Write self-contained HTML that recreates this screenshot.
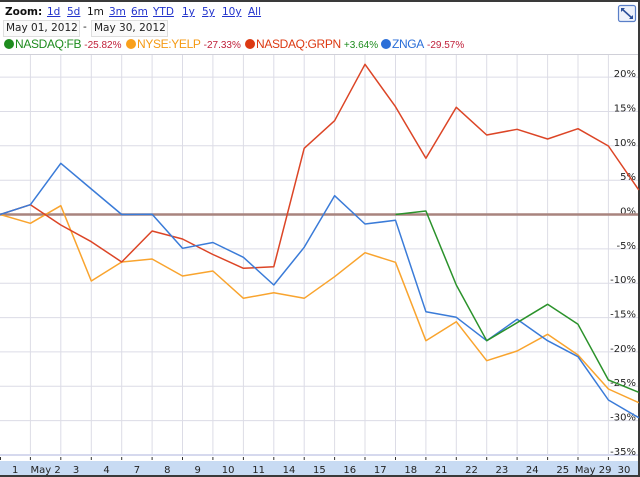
<!DOCTYPE html>
<html><head><meta charset="utf-8">
<style>
html,body{margin:0;padding:0;background:#fff;}
#w{position:relative;width:640px;height:477px;overflow:hidden;background:#fff;font-family:"DejaVu Sans","Liberation Sans",sans-serif;}
.t{position:absolute;white-space:nowrap;}
.zl{position:absolute;top:6px;font-size:10.5px;color:#2233cc;text-decoration:underline;}
.box{position:absolute;top:20px;height:15px;border:1px solid #dedede;background:#fafafa;font-size:10.5px;line-height:15px;color:#222;padding-left:2px;}
.lg{position:absolute;top:37px;font-family:"Liberation Sans",sans-serif;font-size:11px;line-height:14px;white-space:nowrap;}
.nm{font-size:12px;letter-spacing:-0.35px;}
.pc{font-size:10px;}
.dot{display:inline-block;width:10px;height:10px;border-radius:5px;vertical-align:-1px;margin-right:1px;}
</style></head><body>
<div id="w">
<div style="position:absolute;left:0;top:0;width:640px;height:2px;background:#3a3a3a"></div>
<div style="position:absolute;right:0;top:0;width:2px;height:477px;background:#3a3a3a"></div>
<div style="position:absolute;left:0;top:461px;width:638px;height:14px;background:#c8dbf3"></div>
<div style="position:absolute;left:0;top:475px;width:640px;height:2px;background:#3a3a3a"></div>

<div class="t" style="left:5px;top:6px;font-size:10.5px;font-weight:bold;color:#111">Zoom:</div>
<div class="zl" style="left:47px">1d</div>
<div class="zl" style="left:67px">5d</div>
<div class="t" style="left:87px;top:6px;font-size:10.5px;color:#111">1m</div>
<div class="zl" style="left:109px">3m</div>
<div class="zl" style="left:131px">6m</div>
<div class="zl" style="left:153px">YTD</div>
<div class="zl" style="left:182px">1y</div>
<div class="zl" style="left:202px">5y</div>
<div class="zl" style="left:222px">10y</div>
<div class="zl" style="left:248px">All</div>

<div class="box" style="left:3px;width:73px">May 01, 2012</div>
<div class="t" style="left:83px;top:21px;font-size:10.5px;color:#222">-</div>
<div class="box" style="left:91px;width:73px">May 30, 2012</div>

<div class="lg" style="left:4px"><span class="dot" style="background:#1e8c1e"></span><span class="nm" style="color:#1e8c1e">NASDAQ:FB</span> <span class="pc" style="color:#c0203a">-25.82%</span></div>
<div class="lg" style="left:126px"><span class="dot" style="background:#f9a01b"></span><span class="nm" style="color:#f59a14">NYSE:YELP</span> <span class="pc" style="color:#c0203a">-27.33%</span></div>
<div class="lg" style="left:245px"><span class="dot" style="background:#dc3912"></span><span class="nm" style="color:#dc3912">NASDAQ:GRPN</span> <span class="pc" style="color:#1e8c1e">+3.64%</span></div>
<div class="lg" style="left:381px"><span class="dot" style="background:#2a6ed8"></span><span class="nm" style="color:#2a6ed8">ZNGA</span> <span class="pc" style="color:#c0203a">-29.57%</span></div>

<svg style="position:absolute;left:0;top:0" width="640" height="477" xmlns="http://www.w3.org/2000/svg">
<rect x="618.5" y="5.5" width="17" height="16" rx="2" fill="#eef2fb" stroke="#5a7fc8" stroke-width="1.2"/>
<line x1="622" y1="9" x2="632" y2="18" stroke="#2b4f9a" stroke-width="1.6"/>
<path d="M621,8 l4,0 l-4,4 z M633,19 l-4,0 l4,-4 z" fill="#2b4f9a"/>

<line x1="0" y1="54.5" x2="638" y2="54.5" stroke="#d0d0d8" stroke-width="1"/>
<g stroke="#dcdce6" stroke-width="1">
<line x1="30.4" y1="55" x2="30.4" y2="455"/><line x1="60.8" y1="55" x2="60.8" y2="455"/><line x1="91.3" y1="55" x2="91.3" y2="455"/><line x1="121.7" y1="55" x2="121.7" y2="455"/><line x1="152.1" y1="55" x2="152.1" y2="455"/><line x1="182.5" y1="55" x2="182.5" y2="455"/><line x1="212.9" y1="55" x2="212.9" y2="455"/><line x1="243.4" y1="55" x2="243.4" y2="455"/><line x1="273.8" y1="55" x2="273.8" y2="455"/><line x1="304.2" y1="55" x2="304.2" y2="455"/><line x1="334.6" y1="55" x2="334.6" y2="455"/><line x1="365" y1="55" x2="365" y2="455"/><line x1="395.5" y1="55" x2="395.5" y2="455"/><line x1="425.9" y1="55" x2="425.9" y2="455"/><line x1="456.3" y1="55" x2="456.3" y2="455"/><line x1="486.7" y1="55" x2="486.7" y2="455"/><line x1="517.1" y1="55" x2="517.1" y2="455"/><line x1="547.6" y1="55" x2="547.6" y2="455"/><line x1="578" y1="55" x2="578" y2="455"/><line x1="608.4" y1="55" x2="608.4" y2="455"/>
<line x1="0" y1="77.1" x2="638" y2="77.1"/><line x1="0" y1="111.5" x2="638" y2="111.5"/><line x1="0" y1="145.8" x2="638" y2="145.8"/><line x1="0" y1="180.2" x2="638" y2="180.2"/>
<line x1="0" y1="248.9" x2="638" y2="248.9"/><line x1="0" y1="283.2" x2="638" y2="283.2"/><line x1="0" y1="317.6" x2="638" y2="317.6"/><line x1="0" y1="351.9" x2="638" y2="351.9"/><line x1="0" y1="386.3" x2="638" y2="386.3"/><line x1="0" y1="420.6" x2="638" y2="420.6"/>
</g>
<line x1="0" y1="455" x2="638" y2="455" stroke="#d6d9ee" stroke-width="2"/>
<g stroke="#333" stroke-width="1">
<line x1="0.5" y1="457" x2="0.5" y2="460"/><line x1="30.4" y1="457" x2="30.4" y2="460"/><line x1="60.8" y1="457" x2="60.8" y2="460"/><line x1="91.3" y1="457" x2="91.3" y2="460"/><line x1="121.7" y1="457" x2="121.7" y2="460"/><line x1="152.1" y1="457" x2="152.1" y2="460"/><line x1="182.5" y1="457" x2="182.5" y2="460"/><line x1="212.9" y1="457" x2="212.9" y2="460"/><line x1="243.4" y1="457" x2="243.4" y2="460"/><line x1="273.8" y1="457" x2="273.8" y2="460"/><line x1="304.2" y1="457" x2="304.2" y2="460"/><line x1="334.6" y1="457" x2="334.6" y2="460"/><line x1="365" y1="457" x2="365" y2="460"/><line x1="395.5" y1="457" x2="395.5" y2="460"/><line x1="425.9" y1="457" x2="425.9" y2="460"/><line x1="456.3" y1="457" x2="456.3" y2="460"/><line x1="486.7" y1="457" x2="486.7" y2="460"/><line x1="517.1" y1="457" x2="517.1" y2="460"/><line x1="547.6" y1="457" x2="547.6" y2="460"/><line x1="578" y1="457" x2="578" y2="460"/><line x1="608.4" y1="457" x2="608.4" y2="460"/>
</g>

<g font-family="DejaVu Sans, Liberation Sans, sans-serif" font-size="10" fill="#222" text-anchor="end">
<text x="636" y="77">20%</text><text x="636" y="111.5">15%</text><text x="636" y="146">10%</text><text x="636" y="180">5%</text><text x="636" y="214.5">0%</text><text x="636" y="249">-5%</text><text x="636" y="283">-10%</text><text x="636" y="317.5">-15%</text><text x="636" y="352">-20%</text><text x="636" y="386">-25%</text><text x="636" y="420.5">-30%</text><text x="636" y="455">-35%</text>
</g>
<g font-family="DejaVu Sans, Liberation Sans, sans-serif" font-size="10" fill="#222" text-anchor="middle">
<text x="15.2" y="473">1</text><text x="45.6" y="473">May 2</text><text x="76" y="473">3</text><text x="106.5" y="473">4</text><text x="136.9" y="473">7</text><text x="167.3" y="473">8</text><text x="197.7" y="473">9</text><text x="228.1" y="473">10</text><text x="258.6" y="473">11</text><text x="289" y="473">14</text><text x="319.4" y="473">15</text><text x="349.8" y="473">16</text><text x="380.2" y="473">17</text><text x="410.7" y="473">18</text><text x="441.1" y="473">21</text><text x="471.5" y="473">22</text><text x="501.9" y="473">23</text><text x="532.3" y="473">24</text><text x="562.8" y="473">25</text><text x="593.2" y="473">May 29</text><text x="624" y="473">30</text>
</g>

<line x1="0" y1="214.5" x2="638" y2="214.5" stroke="#a8847e" stroke-width="2.4"/>

<g fill="none" stroke-width="1.5" stroke-linejoin="round">
<polyline stroke="#f9a42e" points="0,214.5 30.4,223.3 60.8,205.7 91.3,281 121.7,262 152.1,259 182.5,276 212.9,271 243.4,298.3 273.8,292.7 304.2,298.3 334.6,276.7 365,252.7 395.5,262.3 425.9,340.7 456.3,321.7 486.7,360.7 517.1,351 547.6,334.3 578,355 608.4,389 638.8,402.7"/>
<polyline stroke="#dc4526" points="0,214.5 30.4,204.7 60.8,225 91.3,241.7 121.7,262 152.1,231 182.5,239 212.9,254.5 243.4,268.3 273.8,266.7 304.2,148.3 334.6,120.7 365,64.3 395.5,106.7 425.9,158.3 456.3,107.3 486.7,135 517.1,129.3 547.6,139 578,128.7 608.4,146 638.8,190"/>
<polyline stroke="#3a7bd8" points="0,214.5 30.4,204.7 60.8,163.3 91.3,189 121.7,214.5 152.1,214.3 182.5,248.3 212.9,242.5 243.4,257.3 273.8,285 304.2,247.3 334.6,195.7 365,224 395.5,220.3 425.9,311.7 456.3,317.3 486.7,340.7 517.1,319.3 547.6,340.7 578,356.7 608.4,400 638.8,417.7"/>
<polyline stroke="#2b922b" points="395.5,214.5 425.9,211 456.3,285 486.7,340.7 517.1,322.7 547.6,304.3 578,324.3 608.4,380 638.8,392.3"/>
</g>
</svg>
</div>
</body></html>
